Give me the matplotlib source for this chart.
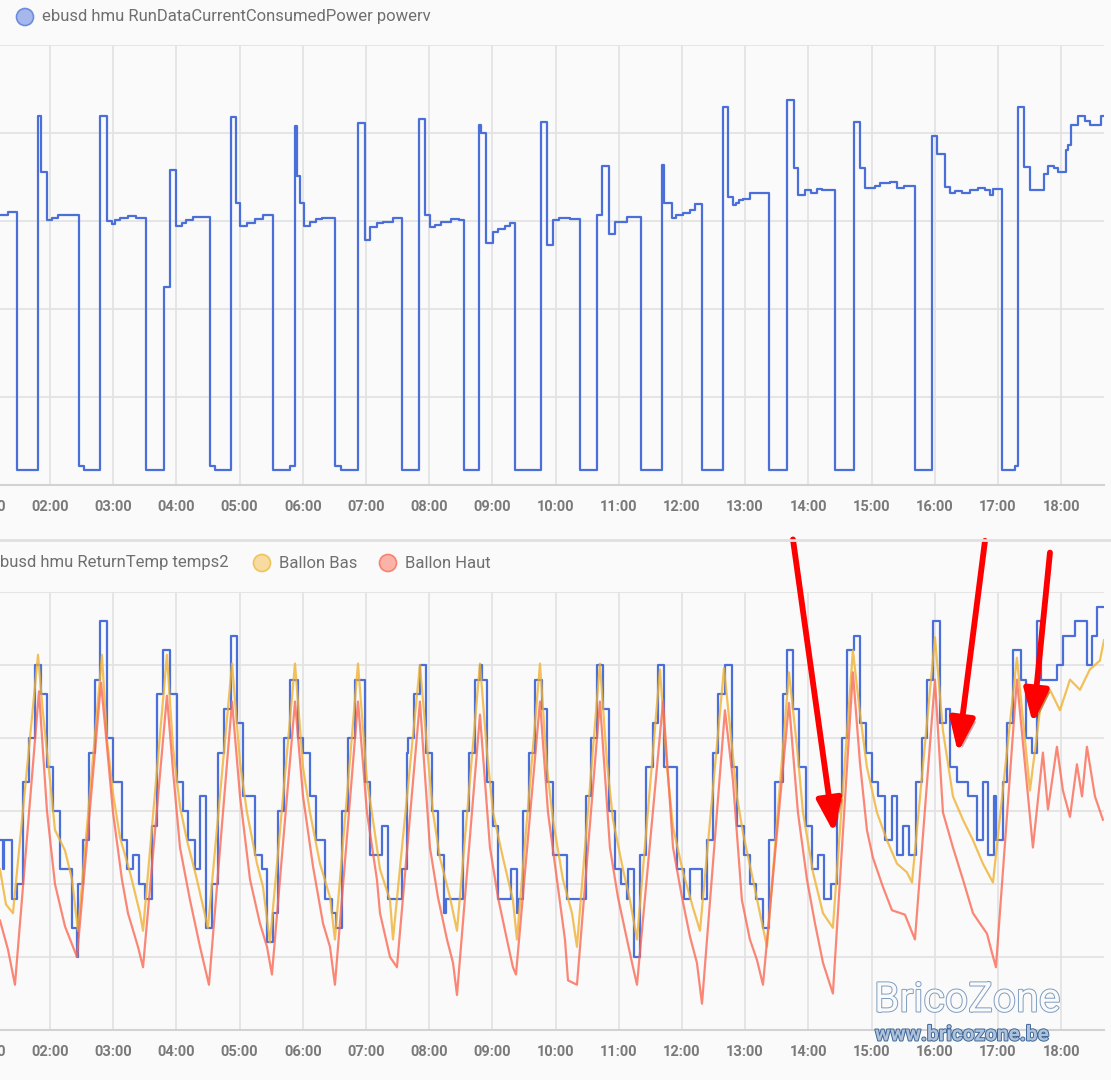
import matplotlib
matplotlib.use('Agg')
import matplotlib.pyplot as plt
import matplotlib.patheffects as pe
from matplotlib.patches import Circle
import numpy as np

# time = minutes since midnight
power_t = [72.5, 80.1, 88.6, 108.6, 111.4, 117.1, 121.9, 127.6, 147.5, 152.3,
           167.4, 174.1, 178.8, 181.7, 186.4, 194.0, 201.6, 211.1, 228.2, 233.9,
           239.6, 245.3, 249.1, 255.7, 271.9, 276.6, 291.8, 296.6, 300.4, 307.0,
           314.6, 322.2, 331.7, 347.8, 352.6, 354.5, 357.3, 361.1, 366.8, 372.5,
           378.2, 390.5, 396.2, 412.4, 419.0, 423.8, 430.4, 436.1, 445.6, 454.2,
           470.3, 476.0, 480.7, 485.5, 491.2, 500.7, 508.3, 513.0, 527.3, 529.2,
           533.9, 540.6, 545.3, 552.0, 556.7, 561.4, 586.1, 591.8, 597.5, 603.2,
           613.7, 623.2, 639.3, 644.1, 650.7, 656.4, 667.8, 681.1, 701.0, 702.9,
           710.5, 714.3, 720.9, 727.6, 732.3, 739.0, 758.9, 763.7, 768.4, 771.3,
           774.1, 777.9, 784.5, 802.6, 819.7, 826.3, 830.1, 836.8, 842.5, 848.2,
           852.9, 865.2, 883.3, 889.0, 893.7, 903.2, 908.0, 917.5, 924.1, 930.8,
           941.2, 957.3, 962.1, 969.7, 974.4, 979.2, 985.8, 993.4, 1001.0, 1007.7,
           1012.4, 1015.3, 1023.8, 1036.2, 1039.0, 1044.7, 1050.4, 1063.7, 1067.5, 1073.2,
           1077.0, 1084.6, 1086.5, 1089.3, 1096.0, 1102.6, 1107.3, 1117.8, 1121.0]
power_w = [1535, 1550, 85, 2095, 1780, 1505, 1515, 1535, 110, 85,
           2095, 1500, 1485, 1505, 1515, 1530, 1515, 85, 1125, 1790,
           1470, 1490, 1505, 1525, 110, 85, 2090, 1600, 1470, 1490,
           1510, 1535, 85, 110, 2040, 1755, 1600, 1470, 1495, 1510,
           1515, 110, 85, 2055, 1390, 1465, 1490, 1495, 1515, 85,
           2080, 1535, 1465, 1475, 1495, 1510, 1505, 85, 2045, 2000,
           1375, 1440, 1455, 1470, 1490, 85, 2065, 1365, 1505, 1515,
           1510, 85, 1535, 1815, 1425, 1495, 1525, 85, 1820, 1600,
           1515, 1535, 1545, 1565, 1595, 85, 2150, 1635, 1590, 1600,
           1620, 1625, 1660, 85, 2190, 1800, 1650, 1675, 1660, 1680,
           1675, 85, 2065, 1800, 1690, 1700, 1715, 1720, 1690, 1700,
           85, 1985, 1880, 1695, 1660, 1670, 1660, 1675, 1690, 1675,
           1650, 1680, 85, 110, 2150, 1805, 1675, 1765, 1815, 1800,
           1780, 1905, 1930, 2045, 2095, 2070, 2045, 2095, 2095]

return_t = [72.5, 75.3, 76.3, 83.9, 88.6, 94.3, 100.0, 105.7, 111.4, 117.1,
            122.8, 129.5, 140.9, 145.6, 146.5, 151.3, 157.0, 162.7, 167.4, 174.1,
            179.8, 188.3, 193.1, 198.8, 204.5, 210.2, 216.8, 221.6, 227.3, 233.9,
            240.5, 246.2, 251.0, 257.6, 262.4, 268.1, 273.8, 279.5, 285.2, 291.8,
            297.5, 303.2, 314.6, 321.2, 326.0, 331.7, 336.4, 342.1, 347.8, 355.4,
            360.2, 366.8, 372.5, 381.1, 387.7, 391.5, 397.2, 402.9, 409.5, 419.0,
            423.8, 435.2, 440.9, 454.2, 458.9, 459.9, 465.6, 471.2, 476.9, 482.6,
            488.3, 494.0, 495.9, 512.1, 517.8, 523.5, 528.2, 530.1, 534.9, 540.6,
            545.3, 557.6, 563.3, 564.3, 569.0, 574.7, 580.4, 587.1, 591.8, 597.5,
            610.8, 628.9, 633.6, 639.3, 645.0, 650.7, 656.4, 662.1, 667.8, 668.7,
            674.4, 680.1, 685.8, 692.5, 697.2, 702.9, 715.2, 721.9, 727.6, 739.0,
            743.7, 749.4, 754.2, 760.8, 767.5, 772.2, 778.9, 784.5, 790.2, 796.9,
            802.6, 808.3, 815.9, 819.7, 825.4, 831.1, 837.7, 843.4, 849.1, 854.8,
            861.5, 867.2, 871.9, 876.6, 883.3, 889.0, 894.7, 900.4, 906.1, 912.7,
            919.4, 924.1, 929.8, 935.5, 942.2, 947.8, 952.6, 958.2, 964.9, 970.6,
            974.4, 981.1, 991.5, 1000.0, 1005.7, 1010.5, 1016.2, 1018.1, 1024.7, 1028.5,
            1034.2, 1041.8, 1046.6, 1052.3, 1057.0, 1060.8, 1076.0, 1081.7, 1093.1, 1104.5,
            1109.2, 1114.0, 1121.0]
return_c = [38, 36, 38, 34, 35, 42, 45, 50, 48, 43,
            40, 36, 32, 30, 35, 38, 44, 49, 53, 45,
            42, 38, 36, 37, 35, 34, 39, 48, 51, 48,
            42, 40, 38, 36, 41, 32, 35, 44, 47, 52,
            46, 41, 37, 36, 31, 33, 40, 45, 49, 45,
            44, 41, 38, 34, 33, 32, 40, 45, 49, 42,
            37, 39, 34, 36, 44, 45, 48, 50, 44, 40,
            37, 33, 34, 40, 44, 49, 50, 49, 42, 39,
            34, 36, 33, 34, 40, 44, 49, 47, 42, 37,
            34, 41, 45, 50, 47, 40, 36, 35, 34, 36,
            30, 37, 43, 46, 50, 43, 36, 34, 36, 34,
            38, 44, 48, 50, 43, 39, 37, 35, 34, 32,
            38, 42, 48, 51, 47, 43, 39, 36, 37, 34,
            35, 41, 45, 51, 52, 46, 44, 42, 41, 38,
            41, 37, 39, 37, 42, 45, 49, 53, 46, 47,
            43, 42, 41, 38, 42, 37, 41, 38, 42, 46,
            51, 49, 45, 44, 53, 49, 50, 52, 53, 50,
            52, 54, 54]

bas_t = [72.5, 78.2, 84.8, 108.6, 113.3, 120.0, 124.7, 134.2, 140.9, 146.5,
         169.3, 174.1, 179.8, 186.4, 195.9, 205.4, 208.3, 231.0, 236.7, 243.4,
         250.0, 259.5, 269.9, 292.8, 300.4, 307.0, 316.5, 322.2, 328.8, 352.6,
         360.2, 366.8, 376.3, 385.8, 390.5, 412.4, 420.9, 426.6, 433.3, 442.8,
         445.6, 471.2, 477.9, 483.6, 490.2, 499.7, 506.4, 528.2, 534.9, 540.6,
         550.0, 559.5, 563.3, 585.2, 591.8, 597.5, 607.0, 615.6, 620.3, 642.1,
         648.8, 654.5, 664.0, 670.6, 677.3, 699.1, 705.8, 711.5, 721.0, 730.4,
         737.1, 759.9, 767.5, 772.2, 777.9, 787.4, 794.0, 800.7, 821.6, 829.2,
         834.9, 844.4, 853.9, 863.3, 882.3, 889.0, 895.6, 905.1, 914.6, 924.1,
         933.6, 938.4, 960.2, 967.8, 977.3, 986.8, 996.3, 1005.7, 1015.3, 1038.0,
         1050.4, 1059.9, 1069.4, 1078.9, 1088.4, 1097.9, 1107.3, 1116.8, 1120.7]
bas_c = [36.0, 33.6, 33.0, 50.7, 46.7, 42.1, 38.7, 37.3, 35.3, 31.8,
         50.7, 44.9, 41.2, 38.2, 35.8, 33.0, 31.8, 50.7, 44.4, 40.3,
         38.0, 35.3, 32.0, 50.1, 43.3, 39.9, 36.4, 34.8, 31.0, 50.1,
         43.0, 39.9, 36.4, 34.1, 31.2, 50.1, 42.1, 39.4, 36.0, 33.9,
         31.2, 50.0, 44.4, 39.9, 36.8, 34.1, 31.8, 50.1, 44.0, 39.9,
         36.8, 33.9, 31.2, 50.1, 43.0, 39.4, 35.3, 33.0, 30.7, 50.1,
         43.3, 39.4, 36.0, 33.9, 31.2, 49.7, 43.0, 38.9, 35.8, 33.4,
         31.8, 49.8, 44.4, 41.0, 38.5, 35.3, 33.0, 30.7, 49.5, 44.4,
         39.9, 35.8, 33.0, 32.0, 51.0, 46.7, 43.0, 39.9, 38.0, 36.4,
         35.8, 35.1, 51.9, 45.5, 41.0, 39.4, 38.0, 36.4, 35.1, 50.5,
         41.4, 46.9, 48.3, 46.9, 49.0, 48.3, 49.7, 50.3, 51.7]

haut_t = [72.5, 80.1, 86.7, 109.5, 117.1, 124.7, 134.2, 145.6, 168.4, 174.1,
          179.8, 188.3, 194.0, 203.5, 208.3, 231.0, 236.7, 243.4, 252.9, 262.4,
          270.9, 292.8, 300.4, 309.9, 319.3, 326.0, 330.7, 352.6, 360.2, 369.7,
          379.2, 385.8, 390.5, 412.4, 420.9, 430.4, 433.3, 442.8, 449.4, 471.2,
          480.7, 488.3, 496.9, 502.6, 506.4, 528.2, 537.7, 545.3, 553.8, 559.5,
          562.4, 585.2, 592.8, 601.3, 608.9, 611.8, 620.3, 642.1, 651.6, 659.2,
          667.8, 673.5, 677.3, 702.0, 711.5, 720.0, 727.6, 734.2, 739.0, 760.8,
          768.4, 776.9, 784.5, 791.2, 796.9, 821.6, 830.1, 838.7, 846.3, 853.9,
          863.3, 882.3, 889.0, 895.6, 901.3, 910.8, 919.4, 931.7, 941.2, 960.2,
          967.8, 977.3, 986.8, 996.3, 1002.9, 1009.6, 1014.3, 1018.1, 1038.0, 1053.2,
          1062.7, 1067.5, 1076.0, 1081.7, 1088.4, 1095.0, 1099.8, 1104.5, 1112.1, 1119.7]
haut_c = [32.5, 30.5, 28.1, 48.2, 40.0, 35.0, 32.1, 30.0, 48.8, 44.4,
          39.9, 35.3, 33.0, 30.7, 29.3, 47.9, 42.8, 37.5, 33.9, 30.7,
          28.1, 47.5, 41.0, 35.3, 32.3, 30.7, 28.8, 47.5, 41.0, 36.2,
          32.3, 30.7, 28.1, 47.5, 39.9, 35.3, 33.0, 30.0, 29.3, 47.5,
          37.5, 34.1, 31.2, 29.6, 27.4, 46.6, 37.5, 34.1, 31.2, 29.3,
          28.8, 47.5, 39.9, 35.3, 31.2, 28.4, 28.1, 47.5, 37.5, 34.1,
          31.2, 29.3, 28.1, 47.5, 37.5, 34.1, 31.4, 29.6, 26.8, 46.9,
          42.1, 33.9, 31.2, 29.8, 28.1, 47.4, 39.9, 35.3, 32.3, 29.6,
          27.5, 49.5, 43.3, 38.7, 36.8, 34.8, 33.2, 32.9, 31.2, 49.0,
          39.9, 37.5, 35.3, 33.0, 32.3, 31.6, 30.3, 29.3, 49.0, 37.5,
          44.0, 40.1, 44.4, 41.4, 39.6, 43.2, 41.0, 44.4, 41.0, 39.4]

hours = list(range(2, 19))

BG = '#fafafa'
GRID = '#e3e3e3'
TXT = '#6f6f6f'
TICK = '#7a7a7a'
BLUE = '#4a6fd8'
ORANGE = '#f0b232'
RED = '#fa6a55'
plt.rcParams['font.family'] = ['Roboto', 'DejaVu Sans']

fig = plt.figure(figsize=(11.11, 10.80), dpi=100, facecolor=BG)
W, H = 1111, 1080
x0, x1 = 72.5, 1120.7
PAD = 11


def style_axis(ax, ymin, ymax, ystep):
    ax.set_facecolor(BG)
    ax.set_xlim(x0, x1)
    ax.set_ylim(ymin, ymax)
    ax.set_xticks([h * 60 for h in hours])
    ax.set_xticklabels(['%02d:00' % h for h in hours])
    ax.set_yticks(np.arange(ymin, ymax + 0.1, ystep))
    ax.tick_params(axis='y', labelleft=False, length=0)
    ax.tick_params(axis='x', length=0, pad=PAD, labelsize=10.5, labelcolor=TICK)
    for lab in ax.get_xticklabels():
        lab.set_fontweight('bold')
    ax.grid(True, color=GRID, lw=1.3)
    ax.set_axisbelow(True)
    for s in ['top', 'left', 'right']:
        ax.spines[s].set_visible(False)
    ax.spines['bottom'].set_color('#d2d2d2')
    ax.spines['bottom'].set_linewidth(1.5)
    ax.annotate('01:00', xy=(60, 0), xycoords=('data', 'axes fraction'),
                xytext=(0, -PAD), textcoords='offset points', ha='center', va='top',
                fontsize=10.5, color=TICK, fontweight='bold', annotation_clip=False)


ax1 = fig.add_axes([0, 1 - 485 / H, 1104 / W, 440 / H])
style_axis(ax1, 0, 2500, 500)
ax1.plot(power_t, power_w, drawstyle='steps-post', color=BLUE, lw=1.6)

ax2 = fig.add_axes([0, 1 - 1030 / H, 1104 / W, 438 / H])
style_axis(ax2, 25, 55, 5)
ax2.plot(return_t, return_c, drawstyle='steps-post', color=BLUE, lw=1.6, zorder=3)
ax2.plot(bas_t, bas_c, color=ORANGE, lw=1.6, alpha=0.8, zorder=4)
ax2.plot(haut_t, haut_c, color=RED, lw=1.6, alpha=0.8, zorder=5)

# red annotation arrows pointing at the dips
arrows = [((825.4, 58.6), (864.3, 38.5)),
          ((1007.7, 58.5), (982.0, 44.0)),
          ((1069.4, 57.7), (1053.2, 46.0))]
for tail, tip in arrows:
    ax2.annotate('', xy=tip, xytext=tail, xycoords='data', textcoords='data',
                 annotation_clip=False, zorder=10,
                 arrowprops=dict(arrowstyle='-|>,head_length=2.0,head_width=0.75',
                                 color='#ff0000', lw=4.2, shrinkA=0, shrinkB=0,
                                 path_effects=[pe.SimplePatchShadow(offset=(2.5, -2.5), alpha=0.3),
                                               pe.Normal()]))

# overlay in pixel units for legends and watermark
ov = fig.add_axes([0, 0, 1, 1], facecolor='none')
ov.set_xlim(0, W)
ov.set_ylim(H, 0)
ov.axis('off')

ov.plot([0, W], [540, 540], color='#e0e0e0', lw=2)


def legend_item(x, y, label, face, edge):
    ov.add_patch(Circle((x, y), 8.5, facecolor=face, edgecolor=edge, lw=1.2))
    ov.text(x + 17, y, label, fontsize=12, color=TXT, va='center', ha='left')


legend_item(25, 17, 'ebusd hmu RunDataCurrentConsumedPower powerv', '#a6b7ec', '#6d8ce0')
legend_item(-26, 563, 'ebusd hmu ReturnTemp temps2', '#a6b7ec', '#6d8ce0')
legend_item(262, 563, 'Ballon Bas', '#f7dba0', '#f0c35a')
legend_item(388, 563, 'Ballon Haut', '#fbb2a8', '#f7826f')

# watermark
ov.text(874, 1000, 'BricoZone', fontsize=29.5, color=BG, va='center', ha='left',
        path_effects=[pe.Stroke(linewidth=1.4, foreground='#7f9dbf'), pe.Normal()])
ov.text(875, 1035, 'www.bricozone.be', fontsize=15, fontweight='bold', color='#aec2dc',
        va='center', ha='left',
        path_effects=[pe.Stroke(linewidth=1.4, foreground='#3d6696'), pe.Normal()])

fig.savefig('out.png', dpi=100, facecolor=BG)
